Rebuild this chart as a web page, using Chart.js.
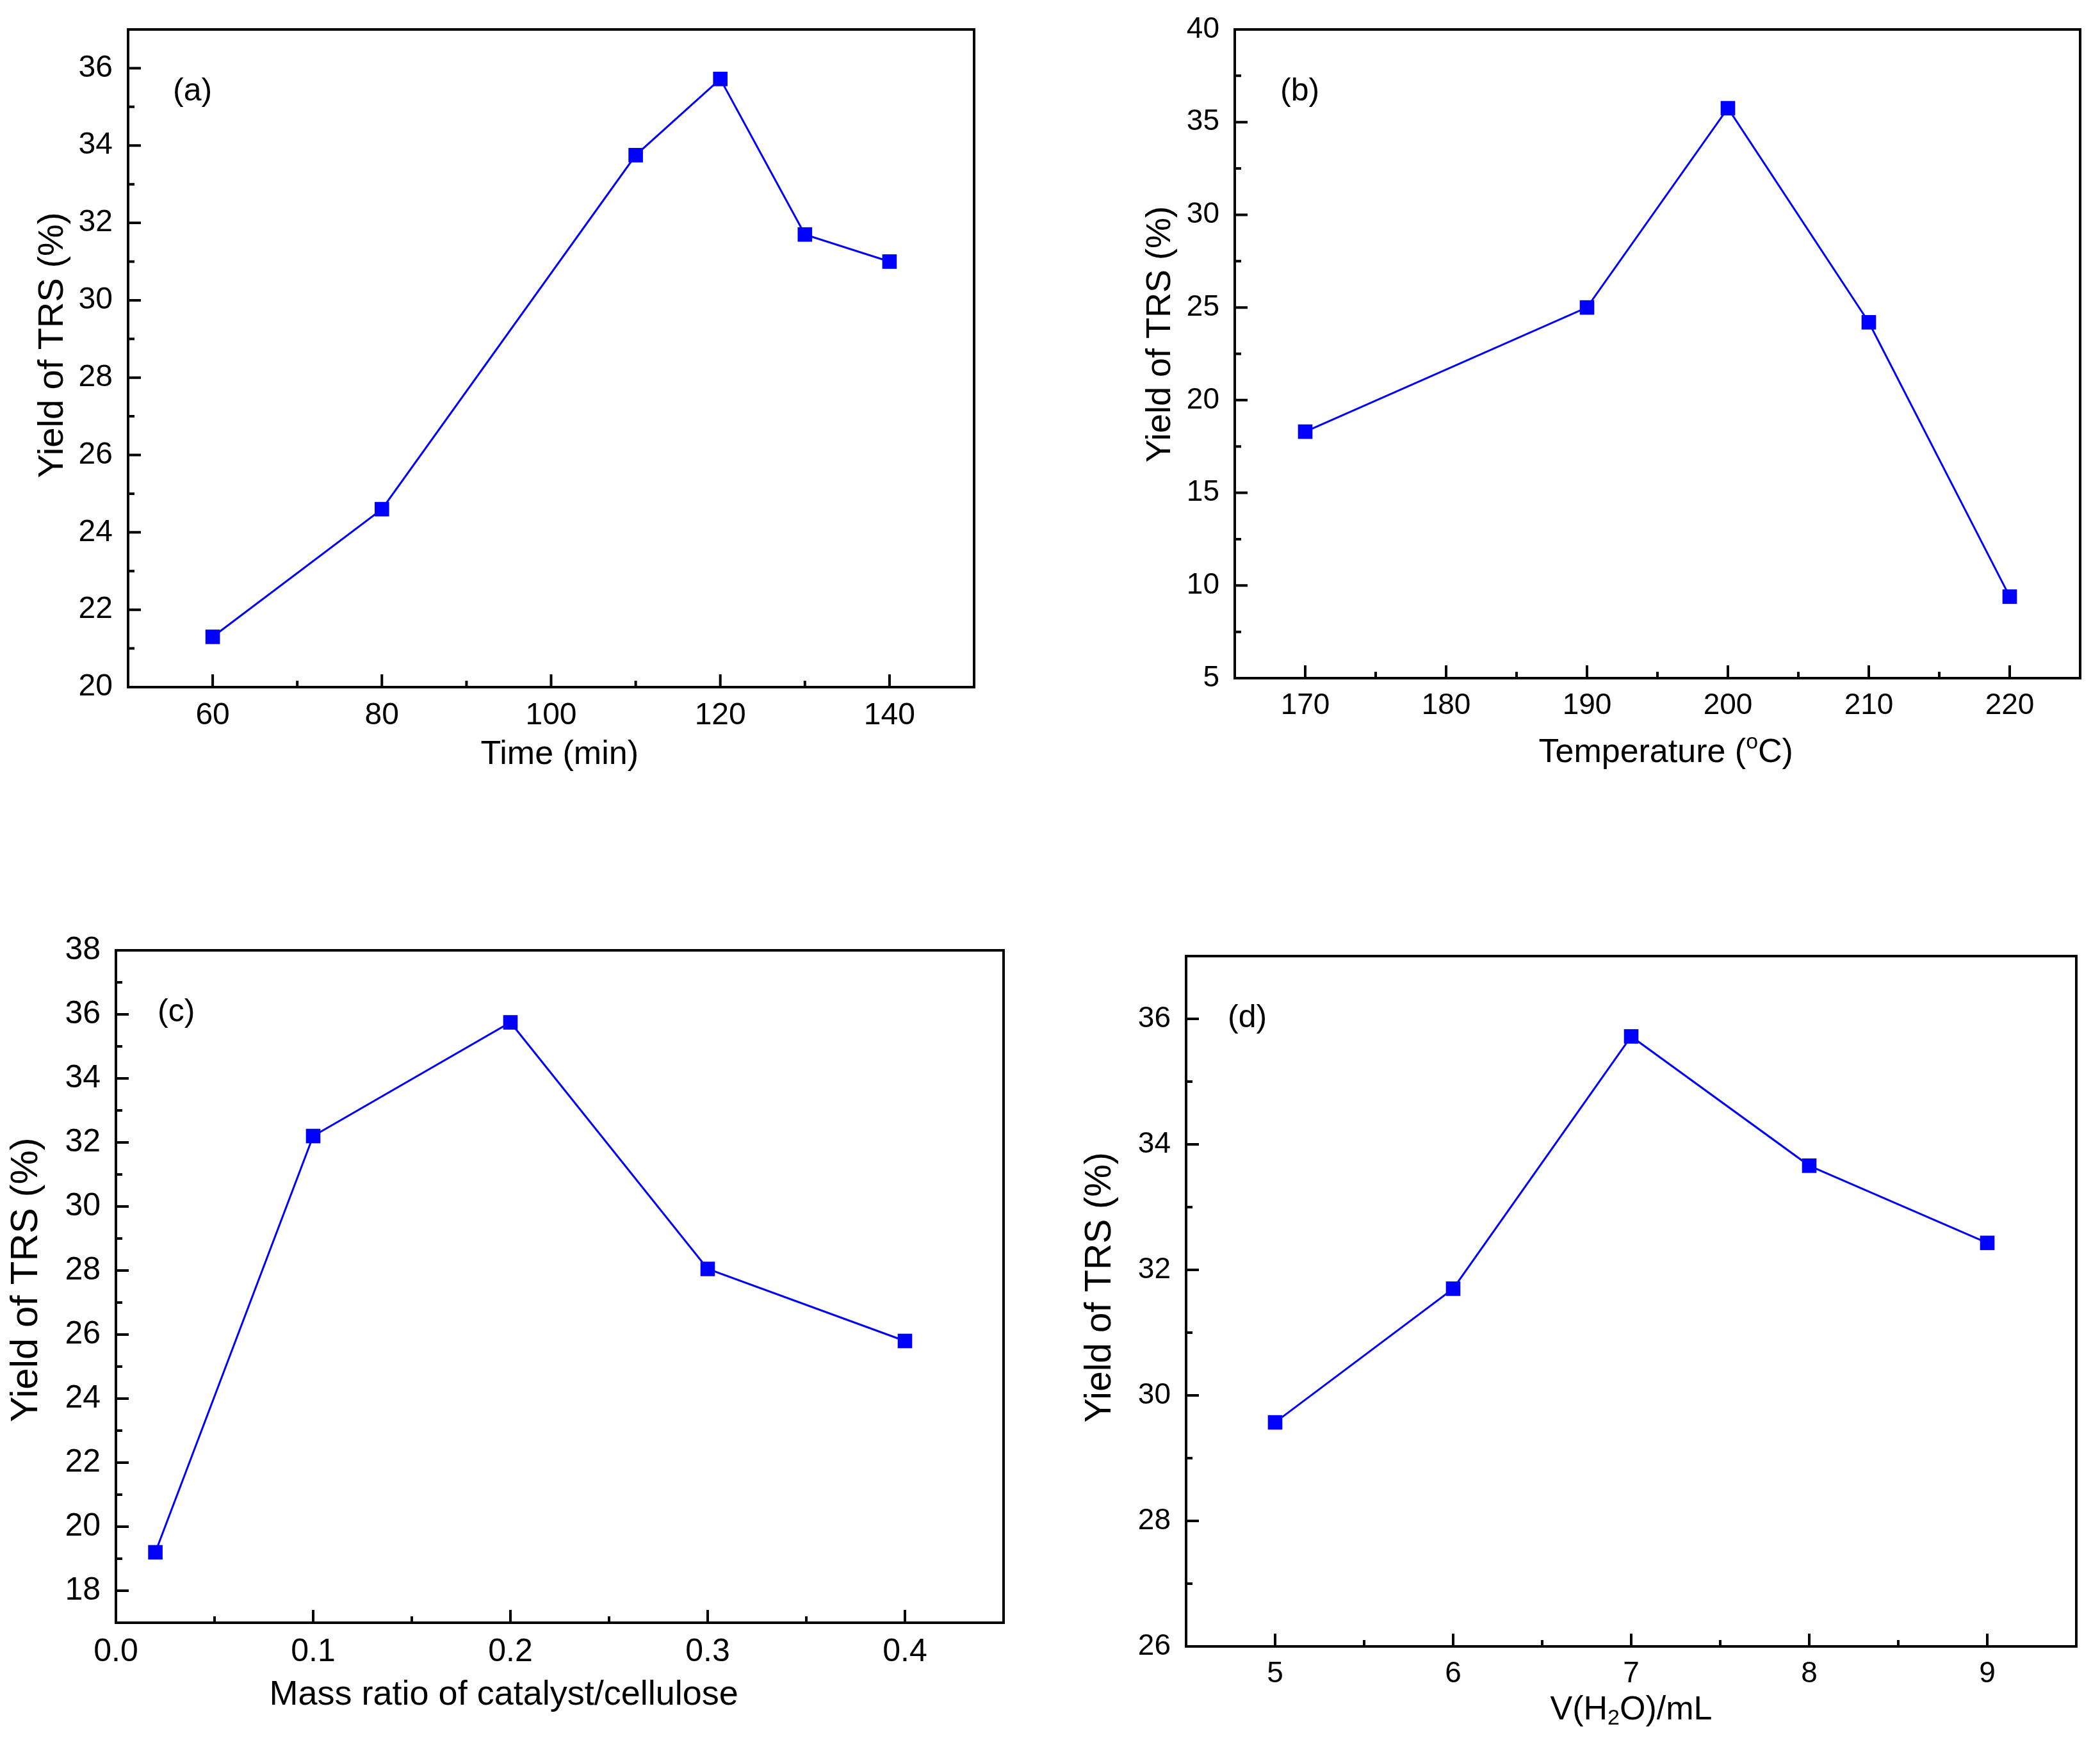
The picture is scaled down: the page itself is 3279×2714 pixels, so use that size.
<!DOCTYPE html>
<html>
<head>
<meta charset="utf-8">
<script src="https://cdn.jsdelivr.net/npm/chart.js@4.4.0/dist/chart.umd.min.js"></script>
<style>
html, body { margin: 0; padding: 0; background: #fff; }
body { width: 3279px; height: 2714px; position: relative; overflow: hidden; }
canvas { position: absolute; }
</style>
</head>
<body>
<canvas id="chartA"></canvas>
<canvas id="chartB"></canvas>
<canvas id="chartC"></canvas>
<canvas id="chartD"></canvas>
<script>
// (a) time
var timeMin = [60, 80, 110, 120, 130, 140];
var yieldTime = [21.3, 24.6, 33.75, 35.72, 31.7, 31.0];
var xTicksA = [60, 80, 100, 120, 140];
var yTicksA = [20, 22, 24, 26, 28, 30, 32, 34, 36];

// (b) temperature
var tempC = [170, 190, 200, 210, 220];
var yieldTemp = [18.3, 25.0, 35.75, 24.2, 9.4];
var xTicksB = [170, 180, 190, 200, 210, 220];
var yTicksB = [5, 10, 15, 20, 25, 30, 35, 40];

// (c) mass ratio
var massRatio = [0.02, 0.1, 0.2, 0.3, 0.4];
var yieldRatio = [19.2, 32.2, 35.75, 28.05, 25.8];
var xTicksC = [0.0, 0.1, 0.2, 0.3, 0.4];
var yTicksC = [18, 20, 22, 24, 26, 28, 30, 32, 34, 36, 38];

// (d) water volume
var waterMl = [5, 6, 7, 8, 9];
var yieldWater = [29.57, 31.7, 35.72, 33.66, 32.43];
var xTicksD = [5, 6, 7, 8, 9];
var yTicksD = [26, 28, 30, 32, 34, 36];

var FONT = "'Liberation Sans', Arial, Helvetica, sans-serif";
var BLUE = '#0000ff';
var Y_AXIS_W = 180, X_AXIS_H = 160, PAD_TOP = 64, PAD_RIGHT = 30;

function minorTicks(major, min, max) {
    var step = major[1] - major[0];
    var out = [];
    for (var v = major[0] - step / 2; v < max; v += step) {
        if (v > min + 1e-9 && v < max - 1e-9) out.push(v);
    }
    return out;
}

// frame round the plot plus inward ticks, like the original
var frameTicks = {
    id: 'frameTicks',
    afterDraw: function(chart) {
        var ctx = chart.ctx, a = chart.chartArea;
        var xs = chart.scales.x, ys = chart.scales.y;
        ctx.save();
        ctx.strokeStyle = '#000';
        ctx.lineWidth = 4;
        ctx.beginPath();
        xs.ticks.forEach(function(t) {
            var px = xs.getPixelForValue(t.value);
            ctx.moveTo(px, a.bottom); ctx.lineTo(px, a.bottom - 20);
        });
        minorTicks(xs.ticks.map(function(t) { return t.value; }), xs.min, xs.max).forEach(function(v) {
            var px = xs.getPixelForValue(v);
            ctx.moveTo(px, a.bottom); ctx.lineTo(px, a.bottom - 10);
        });
        ys.ticks.forEach(function(t) {
            var py = ys.getPixelForValue(t.value);
            ctx.moveTo(a.left, py); ctx.lineTo(a.left + 20, py);
        });
        minorTicks(ys.ticks.map(function(t) { return t.value; }), ys.min, ys.max).forEach(function(v) {
            var py = ys.getPixelForValue(v);
            ctx.moveTo(a.left, py); ctx.lineTo(a.left + 10, py);
        });
        ctx.stroke();
        ctx.lineJoin = 'miter';
        ctx.strokeRect(a.left, a.top, a.right - a.left, a.bottom - a.top);
        ctx.restore();
    }
};

function drawRich(ctx, parts, cx, cy, size) {
    var small = Math.round(size * 0.65);
    var total = 0;
    parts.forEach(function(p) {
        ctx.font = (p.s ? small : size) + 'px ' + FONT;
        p.w = ctx.measureText(p.t).width;
        total += p.w;
    });
    var x = cx - total / 2;
    ctx.textAlign = 'left';
    ctx.textBaseline = 'middle';
    parts.forEach(function(p) {
        ctx.font = (p.s ? small : size) + 'px ' + FONT;
        var dy = p.s === 'sup' ? -size * 0.32 : (p.s === 'sub' ? size * 0.24 : 0);
        ctx.fillText(p.t, x, cy + dy);
        x += p.w;
    });
}

// axis titles and panel letter
function makeDeco(o) {
    return {
        id: 'panelDeco',
        afterDraw: function(chart) {
            var ctx = chart.ctx, a = chart.chartArea;
            ctx.save();
            ctx.fillStyle = '#000';
            ctx.font = '50px ' + FONT;
            ctx.textAlign = 'left';
            ctx.textBaseline = 'middle';
            ctx.fillText(o.letter, a.left + o.letterDx, a.top + 97);

            ctx.save();
            ctx.translate(a.left - o.yTitleDx, a.top + (a.bottom - a.top) * o.yTitleFrac);
            ctx.rotate(-Math.PI / 2);
            ctx.font = o.yTitleSize + 'px ' + FONT;
            ctx.textAlign = 'center';
            ctx.textBaseline = 'middle';
            ctx.fillText('Yield of TRS (%)', 0, 0);
            ctx.restore();

            drawRich(ctx, o.xTitle, a.left + (a.right - a.left) * o.xTitleFrac, a.bottom + o.xTitleDy, o.xTitleSize);
            ctx.restore();
        }
    };
}

function makePanel(id, box, xs, ys, xMin, xMax, yMin, yMax, xTicks, yTicks, tickSize, xFmt, deco) {
    var canvas = document.getElementById(id);
    var w = Y_AXIS_W + (box.r - box.l) + PAD_RIGHT;
    var h = PAD_TOP + (box.b - box.t) + X_AXIS_H;
    canvas.width = w;
    canvas.height = h;
    canvas.style.left = (box.l - Y_AXIS_W) + 'px';
    canvas.style.top = (box.t - PAD_TOP) + 'px';
    canvas.style.width = w + 'px';
    canvas.style.height = h + 'px';

    var points = xs.map(function(x, i) { return { x: x, y: ys[i] }; });
    var tickFont = { family: FONT, size: tickSize };

    return new Chart(canvas, {
        type: 'line',
        data: {
            datasets: [{
                data: points,
                borderColor: BLUE,
                borderWidth: 3,
                pointStyle: 'rect',
                pointRadius: 16,
                pointHoverRadius: 16,
                pointBackgroundColor: BLUE,
                pointBorderColor: BLUE,
                pointBorderWidth: 0,
                fill: false,
                tension: 0,
                clip: false
            }]
        },
        options: {
            responsive: false,
            animation: false,
            devicePixelRatio: 1,
            layout: { padding: { top: PAD_TOP, right: PAD_RIGHT, left: 0, bottom: 0 } },
            plugins: { legend: { display: false }, tooltip: { enabled: false } },
            events: [],
            scales: {
                x: {
                    type: 'linear',
                    position: 'bottom',
                    min: xMin, max: xMax,
                    grid: { display: false, drawTicks: false },
                    border: { display: false },
                    afterBuildTicks: function(s) { s.ticks = xTicks.map(function(v) { return { value: v }; }); },
                    afterFit: function(s) { s.height = X_AXIS_H; },
                    ticks: {
                        color: '#000', font: tickFont, padding: 16,
                        maxRotation: 0, autoSkip: false,
                        callback: function(v) { return xFmt ? xFmt(v) : String(v); }
                    }
                },
                y: {
                    type: 'linear',
                    min: yMin, max: yMax,
                    grid: { display: false, drawTicks: false },
                    border: { display: false },
                    afterBuildTicks: function(s) { s.ticks = yTicks.map(function(v) { return { value: v }; }); },
                    afterFit: function(s) { s.width = Y_AXIS_W; },
                    ticks: {
                        color: '#000', font: tickFont, padding: 24, autoSkip: false,
                        callback: function(v) { return String(v); }
                    }
                }
            }
        },
        plugins: [frameTicks, makeDeco(deco)]
    });
}

makePanel('chartA', { l: 200, t: 46, r: 1521, b: 1073 }, timeMin, yieldTime,
    50, 150, 20, 37, xTicksA, yTicksA, 48, null,
    { letter: '(a)', letterDx: 70, yTitleDx: 117, yTitleFrac: 0.48, yTitleSize: 56,
      xTitle: [{ t: 'Time (min)' }], xTitleFrac: 0.51, xTitleDy: 106, xTitleSize: 52 });

makePanel('chartB', { l: 1928, t: 46, r: 3248, b: 1059 }, tempC, yieldTemp,
    165, 225, 5, 40, xTicksB, yTicksB, 46, null,
    { letter: '(b)', letterDx: 71, yTitleDx: 116, yTitleFrac: 0.47, yTitleSize: 54,
      xTitle: [{ t: 'Temperature (' }, { t: 'o', s: 'sup' }, { t: 'C)' }], xTitleFrac: 0.51, xTitleDy: 117, xTitleSize: 52 });

makePanel('chartC', { l: 181, t: 1484, r: 1567, b: 2534 }, massRatio, yieldRatio,
    0, 0.45, 17, 38, xTicksC, yTicksC, 50, function(v) { return v.toFixed(1); },
    { letter: '(c)', letterDx: 65, yTitleDx: 140, yTitleFrac: 0.49, yTitleSize: 60,
      xTitle: [{ t: 'Mass ratio of catalyst/cellulose' }], xTitleFrac: 0.437, xTitleDy: 113, xTitleSize: 54 });

makePanel('chartD', { l: 1852, t: 1493, r: 3242, b: 2571 }, waterMl, yieldWater,
    4.5, 9.5, 26, 37, xTicksD, yTicksD, 46, null,
    { letter: '(d)', letterDx: 65, yTitleDx: 134, yTitleFrac: 0.48, yTitleSize: 57,
      xTitle: [{ t: 'V(H' }, { t: '2', s: 'sub' }, { t: 'O)/mL' }], xTitleFrac: 0.50, xTitleDy: 100, xTitleSize: 52 });
</script>
</body>
</html>
